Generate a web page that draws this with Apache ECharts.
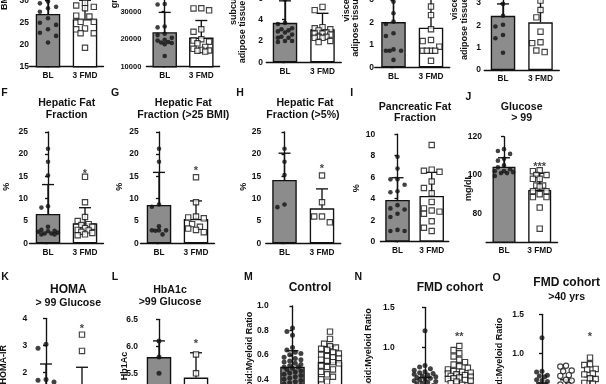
<!DOCTYPE html>
<html><head><meta charset="utf-8">
<script src="https://cdn.jsdelivr.net/npm/echarts@6/dist/echarts.min.js"></script>
<style>html,body{margin:0;padding:0;background:#fff}#c{width:606px;height:384px}</style>
</head><body><div id="c"></div>
<script>
// ---------------- DATA ----------------
const cats2 = ['BL', '3 FMD'];
const catsO = ['BL', '1 FMD', '3 FMD'];

// A  BMI
const A_BL = [29.8, 29.4, 28.6, 28.3, 27.5, 26.0, 25.0, 24.5, 23.5, 22.7, 22.0, 20.5];
const A_FMD = [29.5, 28.9, 28.6, 28.3, 26.6, 26.4, 25.2, 25.2, 23.7, 23.5, 22.6, 22.6, 19.3];
const A_mean = [27.0, 25.8], A_sd = [3.6, 4.3];
// B  grams
const B_BL = [32800, 32600, 24600, 24300, 22000, 21500, 20500, 19800, 19500, 19000, 18800, 18600, 18200, 13900];
const B_FMD = [31250, 30500, 31200, 23600, 22700, 20000, 19500, 19100, 18500, 17200, 16500, 16100, 15900, 15800, 15500];
const B_mean = [22550, 20600], B_sd = [7200, 6200];
// C  subcutaneous adipose tissue
const C_BL = [5.9, 3.7, 3.6, 3.2, 3.1, 3.0, 2.9, 2.8, 2.6, 2.4, 2.3, 2.3, 2.0, 1.9, 2.0];
const C_FMD = [5.2, 4.9, 3.3, 3.2, 3.1, 3.0, 2.8, 2.7, 2.7, 2.6, 2.4, 2.4, 2.3, 2.3, 2.0, 1.9];
const C_mean = [3.71, 3.1], C_sd = [2.06, 1.5];
// D  visceral adipose tissue
const D_BL = [2.93, 2.41, 1.93, 2.04, 1.40, 1.52, 0.80, 0.74, 0.74, 0.74, 0.33];
const D_FMD = [2.71, 2.33, 1.70, 1.22, 1.17, 0.92, 0.74, 0.74, 0.74, 0.74, 0.29];
const D_mean = [2.02, 1.77], D_sd = [1.1, 1.3];
// E  visceral adipose tissue
const E_BL = [2.95, 2.42, 2.02, 1.94, 1.56, 1.42, 0.77];
const E_FMD = [3.1, 2.68, 2.35, 1.71, 1.2, 1.24, 0.8, 0.87];
const E_mean = [2.42, 2.13], E_sd = [0.53, 1.1];
// F  Hepatic Fat Fraction
const F_BL = [21.2, 18.3, 15.2, 8.3, 8.0, 3.7, 3.0, 2.8, 2.7, 2.6, 2.4, 2.2, 2.2, 2.0, 2.0];
const F_FMD = [14.9, 9.2, 5.9, 5.0, 4.3, 4.1, 3.7, 3.4, 3.0, 2.9, 2.6, 2.3, 2.0, 1.8];
const F_mean = [6.57, 4.48], F_sd = [6.6, 3.5];
// G  Hepatic Fat Fraction (>25 BMI)
const G_BL = [21.2, 18.3, 8.7, 8.2, 3.8, 2.9, 2.9, 2.9, 2.8, 2.0];
const G_FMD = [14.8, 9.2, 6.0, 5.8, 5.6, 4.3, 3.7, 3.3, 3.0, 2.5];
const G_mean = [8.6, 5.45], G_sd = [7.3, 4.05];
// H  Hepatic Fat Fraction (>5%)
const H_BL = [21.2, 18.3, 15.3, 8.1, 8.7];
const H_FMD = [15.2, 9.2, 6.0, 6.0, 4.7];
const H_mean = [14.2, 7.85], H_sd = [6.0, 4.35];
// I  Pancreatic Fat Fraction
const I_BL = [7.9, 6.8, 5.8, 5.8, 5.3, 4.7, 4.6, 3.4, 3.1, 3.0, 2.6, 2.3, 1.1, 1.0, 1.0];
const I_FMD = [9.0, 6.7, 6.6, 6.5, 5.6, 5.0, 4.5, 3.7, 3.1, 2.9, 2.8, 2.6, 1.9, 1.3, 1.0];
const I_mean = [3.88, 4.25], I_sd = [2.07, 2.2];
// J  Glucose > 99
const J_BL = [113.5, 112.5, 111, 108.5, 107.5, 105, 104, 103, 102, 102, 101.5, 101, 101, 99.5];
const J_FMD = [102.5, 102, 100, 100, 98, 98, 94.5, 94.5, 94, 91.5, 91.5, 90, 88.5, 88.5, 83, 72];
const J_mean = [104.3, 92.2], J_sd = [4.7, 8.7];
const J_ticks = [80, 100, 120];
// K  HOMA > 99 Glucose
const K_BL = [3.05, 2.9, 1.75, 1.66, 1.72, 1.0, 0.7, 0.5, 0.3];
const K_FMD = [3.4, 2.8, 1.2, 0.9, 0.7, 0.5, 0.4];
const K_mean = [1.5, 1.3], K_sd = [0.82, 0.9];
// L  HbA1c >99 Glucose
const L_BL = [6.1, 5.8, 5.5];
const L_FMD = [5.85, 5.5, 4.9];
const L_mean = [5.8, 5.42], L_sd = [0.3, 0.46];
// M  Control
const M_BL = [0.82, 0.79, 0.76, 0.66, 0.64, 0.62, 0.61, 0.6, 0.58, 0.57, 0.56, 0.55, 0.54, 0.53, 0.52, 0.51, 0.5, 0.5, 0.49, 0.48, 0.47, 0.46, 0.45, 0.44, 0.43, 0.42, 0.41, 0.4, 0.39, 0.38, 0.37, 0.36, 0.35, 0.33, 0.3];
const M_FMD = [0.79, 0.73, 0.69, 0.67, 0.66, 0.65, 0.64, 0.62, 0.61, 0.6, 0.59, 0.58, 0.57, 0.56, 0.55, 0.54, 0.53, 0.51, 0.5, 0.48, 0.46, 0.44, 0.42, 0.4, 0.38];
const M_mean = [0.503, 0.54], M_sd = [0.13, 0.13];
// N  FMD cohort
const N_BL = [1.21, 0.78, 0.76, 0.74, 0.72, 0.7, 0.69, 0.68, 0.67, 0.66, 0.65, 0.64, 0.63, 0.62, 0.61, 0.6, 0.59, 0.58, 0.57, 0.56, 0.55, 0.53, 0.5, 0.48, 0.45, 0.42, 0.4];
const N_FMD = [1.02, 0.97, 0.93, 0.89, 0.85, 0.82, 0.79, 0.77, 0.75, 0.73, 0.71, 0.7, 0.69, 0.68, 0.67, 0.66, 0.65, 0.64, 0.63, 0.62, 0.61, 0.6, 0.59, 0.58, 0.56, 0.54, 0.5, 0.46, 0.42];
const N_mean = [0.48, 0.52], N_sd = [0.15, 0.17];
// O  FMD cohort >40 yrs
const O_BL = [1.2, 0.77, 0.76, 0.72, 0.71, 0.7, 0.66, 0.65, 0.64, 0.6, 0.59];
const O_1 = [0.84, 0.83, 0.78, 0.77, 0.72, 0.71, 0.66, 0.65, 0.6, 0.59];
const O_3 = [0.944, 0.86, 0.85, 0.8, 0.79, 0.74, 0.73, 0.68, 0.67, 0.62, 0.61];
const O_mean = [0.48, 0.52, 0.55], O_sd = [0.14, 0.14, 0.15];

// significance marks
const F_sig = ['', '*'], G_sig = ['', '*'], H_sig = ['', '*'], J_sig = ['', '***'];
const K_sig = ['', '*'], L_sig = ['', '*'], N_sig = ['', '**'], O_sig = ['', '', '*'];

// texts
const titles = [
  ['Hepatic Fat', 66.7, 103.3], ['Fraction', 66.7, 115],
  ['Hepatic Fat', 183.3, 103.3], ['Fraction (>25 BMI)', 183.3, 115],
  ['Hepatic Fat', 305, 103.3], ['Fraction (>5%)', 303, 115],
  ['Pancreatic Fat', 415, 106.7], ['Fraction', 415, 118.3],
  ['Glucose', 521.7, 106.7], ['> 99', 521.7, 118.3],
  ['HOMA', 68.3, 290], ['> 99 Glucose', 68.3, 303.3],
  ['HbA1c', 170, 290], ['>99 Glucose', 170, 301.7],
  ['Control', 310, 287.7],
  ['FMD cohort', 450, 287.7],
  ['FMD cohort', 566.7, 282.3], ['>40 yrs', 566.7, 297.5]
];
const letters = [['F', 4.5, 93.3], ['G', 115, 93], ['H', 240, 93.3], ['I', 351.7, 93.3], ['J', 468.3, 96.7],
  ['K', 5, 276.7], ['L', 115, 276.7], ['M', 248.3, 276.7], ['N', 358.3, 276.7], ['O', 496.7, 278.3]];
// y-axis names: text, x, y, anchor ('left' = bottom end, 'right' = top end, 'center')
const yNames = [
  ['BMI', 5, 10, 'left'], ['grams', 115, 8.3, 'left'],
  ['subcutaneous', 234, 25, 'left'], ['adipose tissue', 243, 63.3, 'left'],
  ['visceral', 346.7, 21.7, 'left'], ['adipose tissue', 356, 56.7, 'left'],
  ['visceral', 455, 20, 'left'], ['adipose tissue', 465, 60, 'left'],
  ['%', 6.7, 186.7, 'center'], ['%', 120, 186.7, 'center'], ['%', 243.3, 186.7, 'center'],
  ['%', 356.7, 188.3, 'center'], ['mg/dL', 468.3, 187.5, 'center'],
  ['HOMA-IR', 4, 345, 'right'], ['Hb1Ac', 125, 351.7, 'right'],
  ['Lymphoid:Myeloid Ratio', 250, 311.7, 'right'], ['Lymphoid:Myeloid Ratio', 368.3, 308.3, 'right'],
  ['Lymphoid:Myeloid Ratio', 500, 317.7, 'right']
];

// ---------------- LAYOUT (pixel geometry) ----------------
const layout = {
  A: {axisX: 31, c0: 48, dc: 37, yMinPx: 66.7, ppu: 4.4, gap: 3.5},
  B: {axisX: 143.3, c0: 164.7, dc: 36.6, yMinPx: 66.7, ppu: 0.00275, fs: 7.5, gap: 2.5},
  C: {axisX: 265, c0: 285, dc: 37.5, yMinPx: 62.3, ppu: 10.65, gap: 2.5},
  D: {axisX: 376, c0: 393.5, dc: 37.5, yMinPx: 67.3, ppu: 22.4, gap: 3},
  E: {axisX: 483, c0: 503, dc: 37.5, yMinPx: 70, ppu: 22.4, gap: 3},
  F: {axisX: 30, c0: 48, dc: 37, yMinPx: 243.3, ppu: 4.46, gap: 2},
  G: {axisX: 140.7, c0: 159, dc: 37, yMinPx: 243.3, ppu: 4.46, gap: 2.5},
  H: {axisX: 263.3, c0: 284.5, dc: 37.5, yMinPx: 243.3, ppu: 4.46, gap: 2.5},
  I: {axisX: 377.3, c0: 397.5, dc: 34.2, yMinPx: 241.7, ppu: 10.75, gap: 2.5},
  J: {axisX: 484, c0: 504, dc: 35.7, yMinPx: 242.1, ppu: 1.917, bw: 23, gap: 1.5},
  K: {axisX: 29.3, c0: 46, dc: 36, yMinPx: 427.1, ppu: 27.2, ms: 5, gap: 3},
  L: {axisX: 140, c0: 159, dc: 37, yMinPx: 427.3, ppu: 54, ms: 5, gap: 2},
  M: {axisX: 270.7, c0: 292.5, dc: 37.5, yMinPx: 428, ppu: 122, ms: 5, gap: 0.6},
  N: {axisX: 396.7, c0: 425, dc: 34.3, yMinPx: 428.35, ppu: 80.7, ms: 5, gap: 0.4, spread: 13},
  O: {axisX: 526, c0: 542, dc: 24, yMinPx: 431.3, ppu: 78, ms: 5, bw: 18, gap: 0.4, spread: 8}
};

const f1 = v => v.toFixed(1);
const f0 = v => String(v);
const panels = [
  {id: 'A', cats: cats2, groups: [A_BL, A_FMD], mean: A_mean, sd: A_sd, min: 15, max: 35, interval: 5},
  {id: 'B', cats: cats2, groups: [B_BL, B_FMD], mean: B_mean, sd: B_sd, min: 10000, max: 40000, interval: 10000, fmt: f0},
  {id: 'C', cats: cats2, groups: [C_BL, C_FMD], mean: C_mean, sd: C_sd, min: 0, max: 8, interval: 2},
  {id: 'D', cats: cats2, groups: [D_BL, D_FMD], mean: D_mean, sd: D_sd, min: 0, max: 4, interval: 1},
  {id: 'E', cats: cats2, groups: [E_BL, E_FMD], mean: E_mean, sd: E_sd, min: 0, max: 4, interval: 1},
  {id: 'F', cats: cats2, groups: [F_BL, F_FMD], mean: F_mean, sd: F_sd, min: 0, max: 25, interval: 5, sig: F_sig, sigY: 16.2},
  {id: 'G', cats: cats2, groups: [G_BL, G_FMD], mean: G_mean, sd: G_sd, min: 0, max: 25, interval: 5, sig: G_sig, sigY: 16.8},
  {id: 'H', cats: cats2, groups: [H_BL, H_FMD], mean: H_mean, sd: H_sd, min: 0, max: 25, interval: 5, sig: H_sig, sigY: 17.2},
  {id: 'I', cats: cats2, groups: [I_BL, I_FMD], mean: I_mean, sd: I_sd, min: 0, max: 10, interval: 2},
  {id: 'J', cats: cats2, groups: [J_BL, J_FMD], mean: J_mean, sd: J_sd, min: 65, max: 120, ticks: J_ticks, sig: J_sig, sigY: 105.7},
  {id: 'K', cats: cats2, groups: [K_BL, K_FMD], mean: K_mean, sd: K_sd, min: 0, max: 4, interval: 1, sig: K_sig, sigY: 3.69},
  {id: 'L', cats: cats2, groups: [L_BL, L_FMD], mean: L_mean, sd: L_sd, min: 4.5, max: 6.5, interval: 0.5, fmt: f1, sig: L_sig, sigY: 6.085},
  {id: 'M', cats: cats2, groups: [M_BL, M_FMD], mean: M_mean, sd: M_sd, min: 0, max: 1, interval: 0.2, fmt: f1},
  {id: 'N', cats: cats2, groups: [N_BL, N_FMD], mean: N_mean, sd: N_sd, min: 0, max: 1.5, interval: 0.5, fmt: f1, sig: N_sig, sigY: 1.166},
  {id: 'O', cats: catsO, groups: [O_BL, O_1, O_3], mean: O_mean, sd: O_sd, min: 0, max: 1.5, interval: 0.5, fmt: f1, sig: O_sig, sigY: 1.244, kinds: ['dot', 'ring', 'square']}
];

// ---------------- BUILD ----------------
const FONT = '"Liberation Sans", Arial, Helvetica, sans-serif';
const GRAY = '#8c8c8c';
const INK = '#111';
const LW = 1.35;

// beeswarm offsets (pixels), limited to +-maxOff
function swarm(vals, ppu, size, gap, maxOff) {
  const d = size + gap, step = d / 2;
  const idx = vals.map((v, i) => i).sort((a, b) => vals[b] - vals[a]);
  const placed = [], out = [];
  idx.forEach(i => {
    const y = vals[i] * ppu;
    let best = 0, bestD = -1;
    for (let k = 0; k < 80; k++) {
      const m = Math.ceil(k / 2), sgn = (k % 2 === 1) ? -1 : 1;
      const x = k === 0 ? 0 : sgn * m * step;
      if (Math.abs(x) > maxOff) break;
      let md = Infinity;
      placed.forEach(q => { const dd = Math.hypot(q.x - x, q.y - y); if (dd < md) md = dd; });
      if (md >= d) { best = x; bestD = md; break; }
      if (md > bestD) { bestD = md; best = x; }
    }
    placed.push({x: best, y}); out[i] = best;
  });
  return out;
}

function errRender(params, api) {
  const x = api.value(0);
  const p1 = api.coord([x, api.value(1)]);
  const p2 = api.coord([x, api.value(2)]);
  const st = {stroke: INK, lineWidth: LW};
  return {type: 'group', children: [
    {type: 'line', shape: {x1: p1[0], y1: p1[1], x2: p2[0], y2: p2[1]}, style: st},
    {type: 'line', shape: {x1: p2[0] - 6, y1: p2[1], x2: p2[0] + 6, y2: p2[1]}, style: st}
  ]};
}

const grids = [], xAxes = [], yAxes = [], series = [];
panels.forEach((p, i) => {
  const L = layout[p.id];
  const n = p.cats.length;
  const kinds = p.kinds || ['dot', 'square'];
  const bw = L.bw || 24.5;
  const left = L.c0 - L.dc / 2, width = n * L.dc;
  const height = (p.max - p.min) * L.ppu, top = L.yMinPx - height;
  grids.push({left, top, width, height, containLabel: false, outerBoundsMode: 'none'});
  xAxes.push({type: 'category', gridIndex: i, data: p.cats, boundaryGap: true,
    axisLine: {lineStyle: {color: INK, width: LW}}, axisTick: {show: false},
    axisLabel: {color: INK, fontWeight: 'bold', fontSize: 8.3, fontFamily: FONT, margin: 5, interval: 0},
    splitLine: {show: false}});
  xAxes.push({type: 'value', gridIndex: i, min: -0.5, max: n - 0.5, show: false});
  const ya = {type: 'value', gridIndex: i, min: p.min, max: p.max, offset: left - L.axisX,
    axisLine: {show: true, lineStyle: {color: INK, width: LW}},
    axisTick: {show: true, length: 3, lineStyle: {color: INK, width: LW}},
    axisLabel: {color: INK, fontWeight: 'bold', fontSize: L.fs || 8.5, fontFamily: FONT, margin: 2},
    splitLine: {show: false}};
  if (p.fmt) ya.axisLabel.formatter = p.fmt;
  if (p.interval) ya.interval = p.interval;
  if (p.ticks) { ya.axisLabel.customValues = p.ticks; ya.axisTick.customValues = p.ticks; }
  yAxes.push(ya);

  series.push({type: 'bar', xAxisIndex: 2 * i, yAxisIndex: i, barWidth: bw, silent: true, z: 1,
    data: p.mean.map((m, k) => ({value: m, itemStyle: {color: kinds[k] === 'dot' ? GRAY : '#fff'}})),
    itemStyle: {borderColor: INK, borderWidth: LW}});
  series.push({type: 'custom', xAxisIndex: 2 * i + 1, yAxisIndex: i, z: 3, silent: true,
    data: p.mean.map((m, k) => [k, m, m + p.sd[k]]), encode: {x: 0, y: [1, 2]}, renderItem: errRender});
  p.groups.forEach((vals, k) => {
    const kind = kinds[k];
    const size = kind === 'dot' ? (L.ms || 4.6) : (L.ms ? L.ms + 0.3 : 5.3);
    const off = swarm(vals, L.ppu, size, L.gap, L.spread || (bw / 2 - size / 2));
    series.push({type: 'scatter', xAxisIndex: 2 * i + 1, yAxisIndex: i, z: 4, silent: true,
      data: vals.map((v, j) => [k + off[j] / L.dc, v]),
      symbol: kind === 'square' ? 'rect' : 'circle', symbolSize: size,
      itemStyle: kind === 'dot' ? {color: INK} : {color: '#fff', borderColor: INK, borderWidth: 1.15}});
  });
  if (p.sig) {
    series.push({type: 'scatter', xAxisIndex: 2 * i + 1, yAxisIndex: i, z: 5, silent: true, symbolSize: 1,
      itemStyle: {color: 'rgba(0,0,0,0)'},
      data: p.sig.map((s, k) => s ? {value: [k, p.sigY], label: {formatter: s}} : null).filter(Boolean),
      label: {show: true, position: 'inside', color: INK, fontSize: 11, fontWeight: 'bold', fontFamily: FONT, offset: [0, 2.5]}});
  }
});

const graphics = [];
function txt(t, x, y, size, align, rot) {
  return {type: 'text', x, y, rotation: rot || 0, silent: true, z: 10,
    style: {text: t, fill: INK, font: 'bold ' + size + 'px ' + FONT, align: align, verticalAlign: 'middle'}};
}
titles.forEach(t => {
  const big = (t[0] === 'Control' || t[0] === 'FMD cohort' || t[0] === 'HOMA');
  graphics.push(txt(t[0], t[1], t[2], big ? 12 : 10.6, 'center'));
});
letters.forEach(t => graphics.push(txt(t[0], t[1], t[2], 10.5, 'center')));
yNames.forEach(t => graphics.push(txt(t[0], t[1], t[2], 9, t[3], Math.PI / 2)));

const chart = echarts.init(document.getElementById('c'), null, {renderer: 'canvas'});
chart.setOption({
  animation: false,
  backgroundColor: '#fff',
  textStyle: {fontFamily: FONT},
  grid: grids, xAxis: xAxes, yAxis: yAxes, series: series, graphic: graphics
});
</script></body></html>
